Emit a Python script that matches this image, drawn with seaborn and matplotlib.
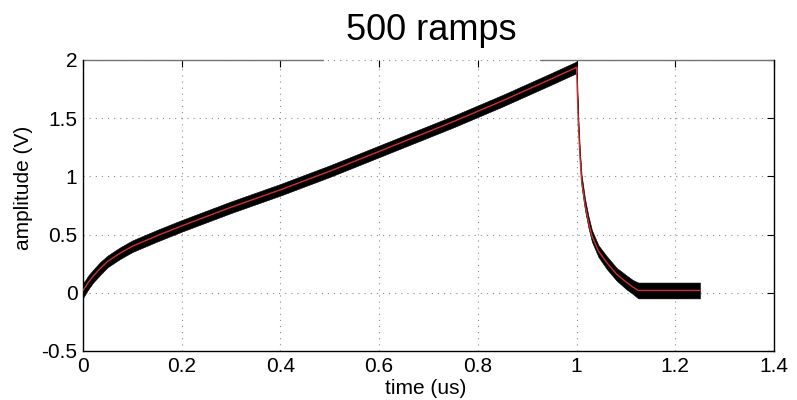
import numpy as np
import pandas as pd
import matplotlib
matplotlib.use("Agg")
import matplotlib.pyplot as plt
import seaborn as sns

# averaged ramp (time in us, amplitude in V)
time_us = [0.0, 0.005, 0.01, 0.02, 0.035, 0.05, 0.075, 0.1, 0.15, 0.2, 0.25,
           0.3, 0.35, 0.4, 0.45, 0.5, 0.55, 0.6, 0.65, 0.7, 0.75, 0.8, 0.85,
           0.9, 0.95, 0.999, 1.0, 1.0017, 1.0034, 1.0067, 1.0101, 1.017,
           1.024, 1.031, 1.044, 1.061, 1.081, 1.101, 1.114, 1.125, 1.25]
amplitude = [0.02, 0.05, 0.085, 0.14, 0.21, 0.27, 0.34, 0.40, 0.49, 0.575, 0.655,
             0.735, 0.81, 0.885, 0.965, 1.045, 1.13, 1.215, 1.30, 1.385, 1.47,
             1.56, 1.65, 1.745, 1.84, 1.935, 1.94, 1.70, 1.47, 1.18, 0.965,
             0.76, 0.61, 0.49, 0.36, 0.26, 0.16, 0.09, 0.05, 0.02, 0.02]
# half height of the black band of the 500 single ramps
spread = [0.065, 0.06, 0.06, 0.055, 0.055, 0.05, 0.05, 0.05, 0.05, 0.05, 0.05,
          0.05, 0.05, 0.05, 0.05, 0.05, 0.05, 0.05, 0.05, 0.05, 0.05,
          0.05, 0.05, 0.05, 0.05, 0.05, 0.05, 0.05, 0.05, 0.05, 0.05,
          0.05, 0.05, 0.05, 0.05, 0.055, 0.055, 0.06, 0.06, 0.068, 0.068]

x_ticks = [0, 0.2, 0.4, 0.6, 0.8, 1.0, 1.2, 1.4]
x_labels = ["0", "0.2", "0.4", "0.6", "0.8", "1", "1.2", "1.4"]
y_ticks = [-0.5, 0, 0.5, 1, 1.5, 2]
y_labels = ["-0.5", "0", "0.5", "1", "1.5", "2"]

df = pd.DataFrame({"time": time_us, "amp": amplitude, "spread": spread})

sns.set_theme(style="white")
plt.rcParams["font.family"] = ["Liberation Sans", "DejaVu Sans"]
plt.rcParams["text.color"] = "black"
plt.rcParams["axes.labelcolor"] = "black"

fig = plt.figure(figsize=(7.97, 4), dpi=100)
ax = fig.add_axes([83 / 797, 49 / 400, 691 / 797, 291 / 400])

# black band = all ramps, red = mean
ax.fill_between(df["time"], df["amp"] - df["spread"], df["amp"] + df["spread"],
                color="black", linewidth=0.4, edgecolor="black", zorder=2)
sns.lineplot(data=df, x="time", y="amp", color="#d03030", linewidth=1.0,
             ax=ax, zorder=3, sort=False)

ax.set_xlim(0, 1.4)
ax.set_ylim(-0.5, 2)
ax.set_xticks(x_ticks)
ax.set_xticklabels(x_labels)
ax.set_yticks(y_ticks)
ax.set_yticklabels(y_labels)
ax.grid(True, linestyle=(0, (1, 4.5)), color="0.55", linewidth=0.8)
ax.tick_params(direction="in", length=5, width=0.8, top=True, right=True,
               labelsize=15, pad=4, colors="black")

ax.set_xlabel("time (us)", fontsize=15, color="black")
ax.set_ylabel("amplitude (V)", fontsize=15, color="black")
ax.xaxis.set_label_coords(0.496, -0.095)
ax.yaxis.set_label_coords(-0.072, 0.56)

for side in ["left", "bottom", "right"]:
    ax.spines[side].set_color("black")
    ax.spines[side].set_linewidth(1.0)
# top frame is broken under the title
ax.spines["top"].set_visible(False)
ax.plot([0, (323 - 83) / 691], [1, 1], transform=ax.transAxes, color="0.45",
        linewidth=1.0, clip_on=False)
ax.plot([(540 - 83) / 691, 1], [1, 1], transform=ax.transAxes, color="0.45",
        linewidth=1.0, clip_on=False)

fig.text(431 / 797, 1 - 40 / 400, "500 ramps", ha="center", va="baseline",
         fontsize=26, color="black")

fig.savefig("out.png", dpi=100, facecolor="white")
